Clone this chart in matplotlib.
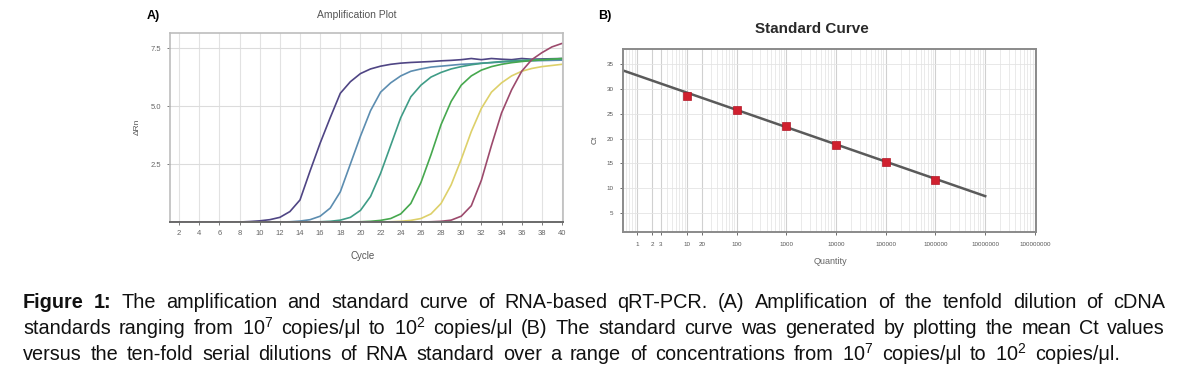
import numpy as np
import matplotlib
matplotlib.use("Agg")
import matplotlib.pyplot as plt
from matplotlib.ticker import FixedLocator, NullFormatter

# ---- panel A: amplification plot (delta Rn per cycle) ----
cycles = np.arange(1, 41)
curve_purple = [0]*8 + [0.02, 0.05, 0.1, 0.2, 0.45, 0.95, 2.2, 3.4, 4.5, 5.55,
                        6.05, 6.4, 6.6, 6.72, 6.8, 6.85, 6.88, 6.9, 6.92, 6.95,
                        6.97, 7.0, 7.05, 7.0, 7.05, 7.02, 7.0, 7.05, 7.02, 7.03,
                        7.04, 7.05]
curve_blue = [0]*12 + [0.01, 0.04, 0.1, 0.25, 0.6, 1.3, 2.5, 3.7, 4.8, 5.6,
                       6.0, 6.3, 6.5, 6.6, 6.68, 6.72, 6.76, 6.8, 6.82, 6.85,
                       6.87, 6.9, 6.92, 6.94, 6.95, 6.96, 6.97, 6.98]
curve_teal = [0]*15 + [0.01, 0.03, 0.08, 0.2, 0.5, 1.1, 2.1, 3.3, 4.5, 5.4,
                       5.9, 6.25, 6.45, 6.6, 6.7, 6.78, 6.84, 6.88, 6.92, 6.95,
                       6.97, 6.99, 7.0, 7.02, 7.03]
curve_green = [0]*19 + [0.01, 0.03, 0.07, 0.15, 0.35, 0.8, 1.7, 2.9, 4.2, 5.2,
                        5.9, 6.3, 6.55, 6.7, 6.8, 6.87, 6.92, 6.96, 6.99, 7.02,
                        7.05]
curve_yellow = [0]*22 + [0.01, 0.03, 0.07, 0.15, 0.35, 0.8, 1.6, 2.7, 3.9, 4.9,
                         5.6, 6.0, 6.3, 6.5, 6.62, 6.7, 6.75, 6.8]
curve_red = [0]*26 + [0.01, 0.03, 0.08, 0.25, 0.7, 1.8, 3.3, 4.7, 5.7, 6.5,
                      7.0, 7.3, 7.55, 7.7]
curves = [curve_purple, curve_blue, curve_teal, curve_green, curve_yellow, curve_red]
curve_colors = ['#4f4584', '#5c8db0', '#3f9c86', '#46a84e', '#ddd06a', '#9c4a6c']
cycle_ticks = list(range(2, 41, 2))
rn_ticks = [2.5, 5.0, 7.5]

# ---- panel B: standard curve ----
quantity = [10, 100, 1000, 10000, 100000, 1000000]
ct_mean = [28.5, 25.7, 22.6, 18.6, 15.3, 11.7]
fit_slope = -3.47
fit_intercept = 32.7
fit_end = 1e7
ct_ticks = [5, 10, 15, 20, 25, 30, 35]
q_ticks = [1, 2, 3, 10, 20, 100, 1000, 10000, 100000, 1000000, 10000000, 100000000]
q_labels = ['1', '2', '3', '10', '20', '100', '1000', '10000', '100000',
            '1000000', '10000000', '100000000']

caption_lines = [
    "The amplification and standard curve of RNA-based qRT-PCR. (A) Amplification of the tenfold dilution of cDNA",
    "standards ranging from 10$^7$ copies/μl to 10$^2$ copies/μl (B) The standard curve was generated by plotting the mean Ct values",
    "versus the ten-fold serial dilutions of RNA standard over a range of concentrations from 10$^7$ copies/μl to 10$^2$ copies/μl.",
]

W, H = 1187, 377
cap_font = 'Liberation Sans'
plt.rcParams['font.family'] = ['Liberation Sans', 'DejaVu Sans']
plt.rcParams['mathtext.fontset'] = 'custom'
plt.rcParams['mathtext.rm'] = cap_font
plt.rcParams['mathtext.it'] = cap_font + ':italic'
plt.rcParams['mathtext.bf'] = cap_font + ':bold'

fig = plt.figure(figsize=(W/100, H/100), dpi=100)


def px(x, y):
    return x / W, 1 - y / H


# panel A
ax1 = fig.add_axes([170/W, 1 - 222/H, 393/W, 189/H])
for c, col in zip(curves, curve_colors):
    ax1.plot(cycles, c, color=col, lw=1.2, solid_capstyle='round')
ax1.set_xlim(1.1, 40.1)
ax1.set_ylim(0, 8.15)
ax1.set_xticks(cycle_ticks)
ax1.set_yticks(rn_ticks)
ax1.set_xticklabels([str(t) for t in cycle_ticks])
ax1.set_yticklabels(['2.5', '5.0', '7.5'])
ax1.tick_params(labelsize=5.5, colors='#666666', length=2, width=0.6, pad=4)
ax1.grid(axis='x', color='#e2e2e2', lw=0.8)
ax1.grid(axis='y', color='#dcdcdc', lw=0.8)
ax1.set_axisbelow(True)
for s in ax1.spines.values():
    s.set_color('#bdbdbd')
    s.set_linewidth(1.2)
ax1.spines['bottom'].set_color('#6a6a6a')
ax1.spines['bottom'].set_linewidth(1.4)
fig.text(*px(357, 15), 'Amplification Plot', fontsize=7.5, color='#555555',
         ha='center', va='center')
fig.text(*px(137, 127), 'ΔRn', fontsize=6, color='#555555', rotation=90,
         ha='center', va='center')
fig.text(*px(363, 256), 'Cycle', fontsize=7, color='#555555',
         ha='center', va='center')
fig.text(*px(147, 16), 'A)', fontsize=9, fontweight='bold', ha='left', va='center')

# panel B
ax2 = fig.add_axes([623/W, 1 - 232/H, 413/W, 183/H])
ax2.set_xscale('log')
q_fit = np.array([0.5, fit_end])
ax2.plot(q_fit, fit_intercept + fit_slope * np.log10(q_fit), color='#5a5a5a', lw=1.8)
ax2.plot(quantity, ct_mean, 's', color='#d0202e', ms=5.8, mec='#b01828', mew=0.5)
ax2.set_xlim(0.52, 1.05e8)
ax2.set_ylim(1.2, 38)
ax2.xaxis.set_major_locator(FixedLocator(q_ticks))
ax2.set_xticklabels(q_labels)
ax2.xaxis.set_minor_formatter(NullFormatter())
ax2.set_yticks(ct_ticks)
ax2.tick_params(labelsize=4.5, colors='#555555', length=2, width=0.6, pad=5)
ax2.tick_params(which='minor', length=0)
ax2.grid(which='major', axis='x', color='#d0d0d0', lw=0.8)
ax2.grid(which='minor', axis='x', color='#e6e6e6', lw=0.6)
ax2.grid(axis='y', color='#e4e4e4', lw=0.6)
ax2.set_axisbelow(True)
for s in ax2.spines.values():
    s.set_color('#8a8a8a')
    s.set_linewidth(1.4)
fig.text(*px(812, 29), 'Standard Curve', fontsize=11, fontweight='bold',
         color='#2a2a2a', ha='center', va='center')
fig.text(*px(595, 140), 'Ct', fontsize=6, color='#555555', rotation=90,
         ha='center', va='center')
fig.text(*px(830, 261), 'Quantity', fontsize=6.5, color='#666666',
         ha='center', va='center')
fig.text(*px(598, 16), 'B)', fontsize=9, fontweight='bold', ha='left', va='center')

# caption, spread over the same width as the journal layout
renderer = fig.canvas.get_renderer()
cap_size = 14.3
x_left = 23
line_right = [1165, 1165, 1120]
line_base = [308.5, 334.5, 360.5]


def word_width(w, weight='normal'):
    t = fig.text(0, 0, w, fontsize=cap_size, family=cap_font, fontweight=weight)
    wd = t.get_window_extent(renderer).width
    t.remove()
    return wd


for i, line in enumerate(caption_lines):
    words = [(w, 'normal') for w in line.split(' ')]
    if i == 0:
        words = [('Figure', 'bold'), ('1:', 'bold')] + words
    widths = [word_width(w, wt) for w, wt in words]
    gap = (line_right[i] - x_left - sum(widths)) / (len(words) - 1)
    x = x_left
    for (w, wt), wd in zip(words, widths):
        fig.text(*px(x, line_base[i]), w, fontsize=cap_size, family=cap_font,
                 fontweight=wt, ha='left', va='baseline', color='#111111')
        x += wd + gap

fig.savefig('out.png', dpi=100)
